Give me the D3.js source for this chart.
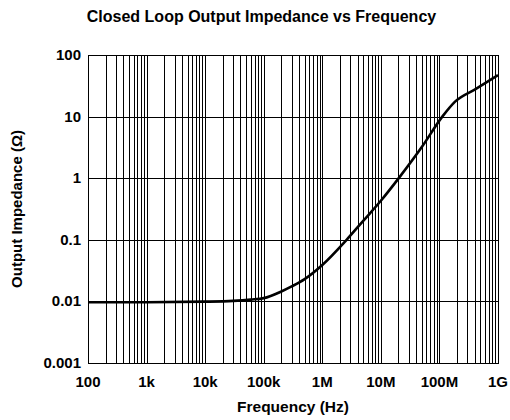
<!DOCTYPE html>
<html><head><meta charset="utf-8">
<script src="https://cdn.jsdelivr.net/npm/d3@7"></script>
<style>
body{margin:0;background:#fff;}
text{font-family:"Liberation Sans",Arial,Helvetica,sans-serif;font-weight:bold;fill:#000;}
</style></head>
<body>
<svg id="c" width="510" height="420"></svg>
<script>
const freq = [1e2, 1e3, 1e4, 3e4, 6e4, 1e5, 2e5, 3e5, 5e5, 1e6, 2.6e6, 5e6, 1e7, 2.1e7, 5e7, 1.12e8, 1.85e8, 4e8, 1e9];
const impedance = [0.0097, 0.0097, 0.0099, 0.0102, 0.0107, 0.0113, 0.0145, 0.0175, 0.023, 0.039, 0.1, 0.203, 0.43, 1.05, 3.2, 10, 17.5, 27.5, 47];
const xTickValues = [1e2, 1e3, 1e4, 1e5, 1e6, 1e7, 1e8, 1e9];
const xTickLabels = ["100", "1k", "10k", "100k", "1M", "10M", "100M", "1G"];
const yTickValues = [0.001, 0.01, 0.1, 1, 10, 100];
const yTickLabels = ["0.001", "0.01", "0.1", "1", "10", "100"];

const svg = d3.select("#c");
const L = 88, R = 498, T = 55, B = 363;
const x = d3.scaleLog().domain([1e2, 1e9]).range([L, R]);
const y = d3.scaleLog().domain([0.001, 100]).range([B, T]);

// vertical minor grid
const vgrid = [];
for (let d = 2; d < 9; d++) for (let m = 1; m <= 9; m++) {
  const v = m * Math.pow(10, d);
  if (v > 1e2 && v < 1e9) vgrid.push(v);
}
const g = svg.append("g").attr("shape-rendering", "crispEdges");
g.selectAll("line.v").data(vgrid).join("line")
  .attr("x1", d => Math.round(x(d)) + 0.5).attr("x2", d => Math.round(x(d)) + 0.5)
  .attr("y1", T).attr("y2", B).attr("stroke", "#000").attr("stroke-width", 1);
g.selectAll("line.h").data(yTickValues.slice(1, -1)).join("line")
  .attr("y1", d => Math.round(y(d)) + 0.5).attr("y2", d => Math.round(y(d)) + 0.5)
  .attr("x1", L).attr("x2", R).attr("stroke", "#000").attr("stroke-width", 1);
g.append("rect").attr("x", L + 0.5).attr("y", T + 0.5).attr("width", R - L).attr("height", B - T)
  .attr("fill", "none").attr("stroke", "#000").attr("stroke-width", 1);

// curve
const line = d3.line().x((d, i) => x(freq[i])).y((d, i) => y(d)).curve(d3.curveMonotoneX);
svg.append("path").datum(impedance).attr("d", line)
  .attr("fill", "none").attr("stroke", "#000").attr("stroke-width", 2.6).attr("stroke-linejoin", "round");

// tick labels
svg.selectAll("text.xt").data(xTickValues).join("text")
  .attr("x", d => x(d)).attr("y", 387).attr("text-anchor", "middle")
  .style("font-size", "15px").text((d, i) => xTickLabels[i]);
svg.selectAll("text.yt").data(yTickValues).join("text")
  .attr("x", 81).attr("y", d => y(d) + 5).attr("text-anchor", "end")
  .style("font-size", "15px").text((d, i) => yTickLabels[i]);

// titles
svg.append("text").attr("x", 261.5).attr("y", 22).attr("text-anchor", "middle")
  .style("font-size", "16px").text("Closed Loop Output Impedance vs Frequency");
svg.append("text").attr("x", (L + R) / 2).attr("y", 412).attr("text-anchor", "middle")
  .style("font-size", "15.5px").text("Frequency (Hz)");
svg.append("text").attr("transform", `translate(22,${(T + B) / 2}) rotate(-90)`).attr("text-anchor", "middle")
  .style("font-size", "15px").text("Output Impedance (Ω)");
</script>
</body></html>
